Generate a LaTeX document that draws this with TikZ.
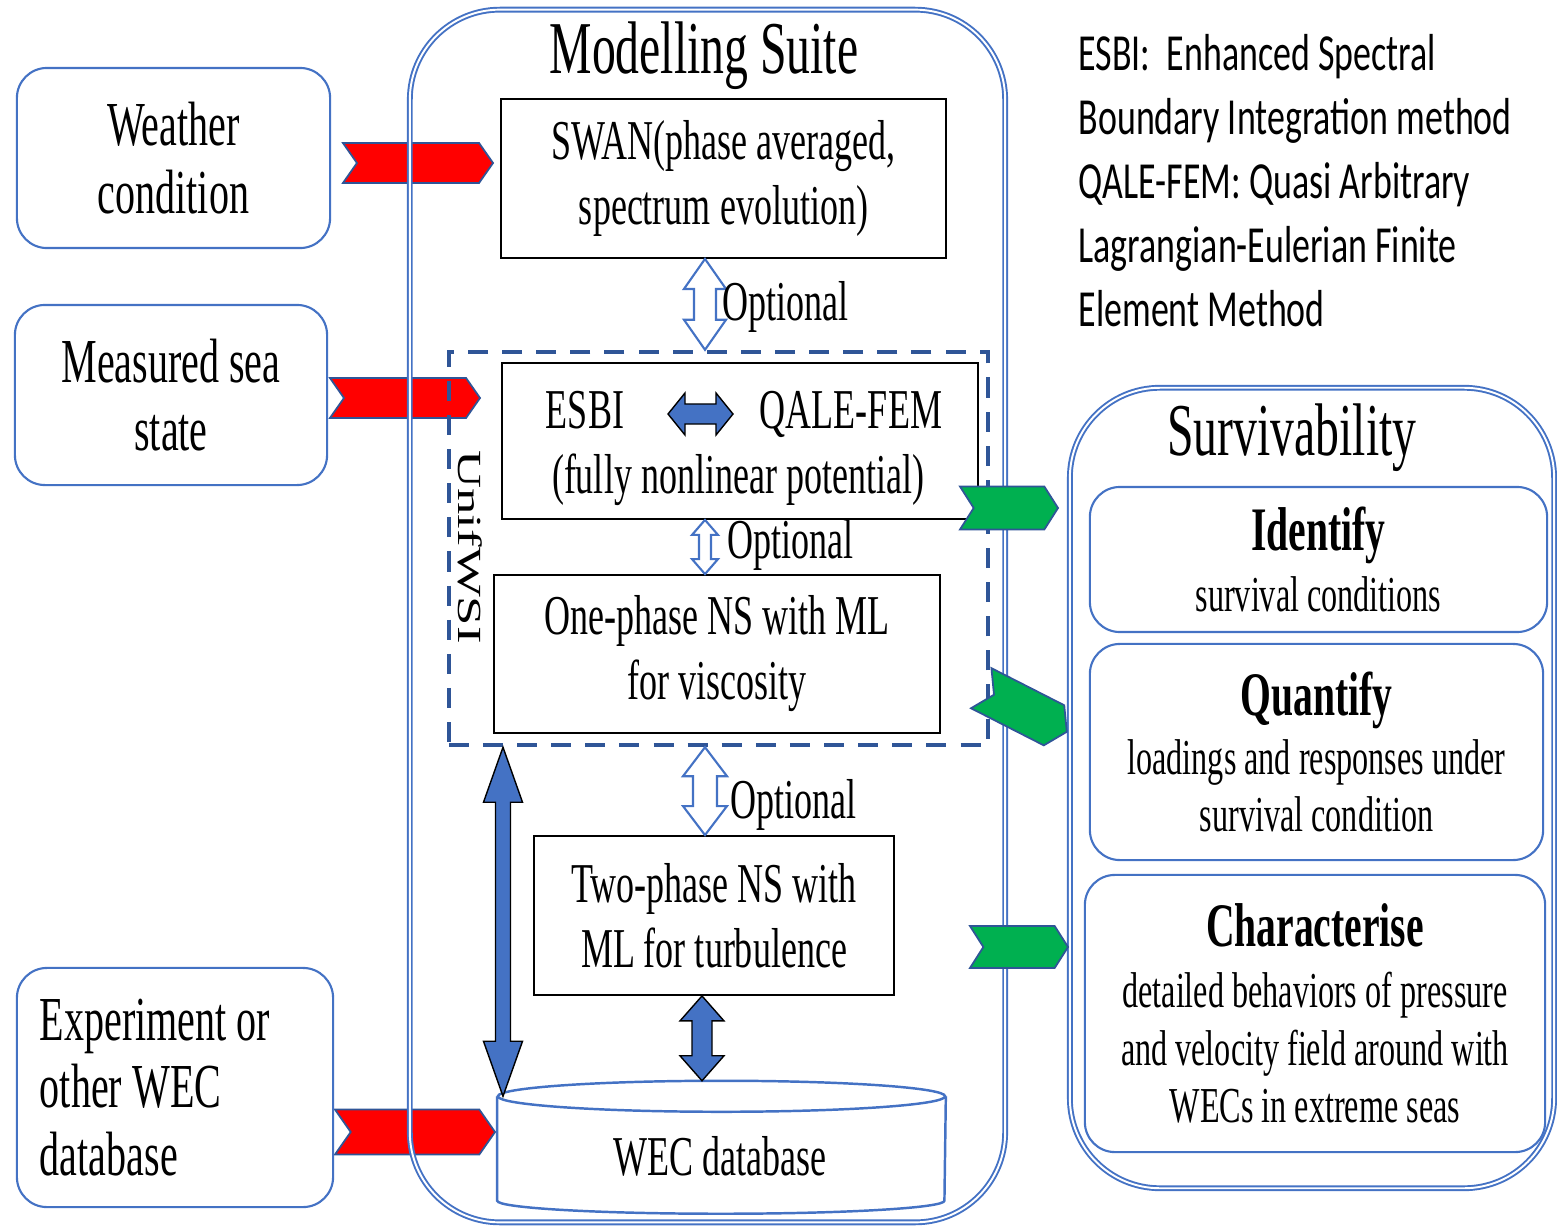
\documentclass[tikz,border=0pt]{standalone}
\usepackage{fontspec}
\setmainfont[FakeStretch=0.64]{Liberation Serif}
\newfontfamily\plainserif{Liberation Serif}
\newfontfamily\notefont[FakeStretch=0.69]{Carlito}
\usepackage{tikz}
\usetikzlibrary{positioning}
\usetikzlibrary{calc}
\usetikzlibrary{shapes.symbols}

\definecolor{boxblue}{HTML}{4472C4}
\definecolor{darkblue}{HTML}{2F5597}
\definecolor{chevgreen}{HTML}{00B050}

\tikzstyle{inbox}=[draw=boxblue, line width=0.6pt, rounded corners=0.3cm, align=center, font=\fontsize{17.8}{19.3}\selectfont]
\tikzstyle{suite}=[draw=boxblue, double, double distance=0.55pt, line width=0.55pt, rounded corners=0.9cm]
\tikzstyle{modbox}=[draw=black, line width=0.5pt, align=center, font=\fontsize{16}{18.5}\selectfont]
\tikzstyle{boxtext}=[font=\fontsize{16}{18.5}\selectfont, anchor=base, inner sep=0pt]
\tikzstyle{unifbox}=[draw=darkblue, line width=1.2pt, dash pattern=on 5.7pt off 4pt]
\tikzstyle{survbox}=[draw=boxblue, line width=0.6pt, rounded corners=0.3cm, align=center, font=\fontsize{14.3}{16.3}\selectfont]
\tikzstyle{headtext}=[font=\fontsize{21.2}{24}\selectfont, anchor=base, inner sep=0pt]
\tikzstyle{opttext}=[font=\fontsize{16}{18}\selectfont, anchor=base west, inner sep=0pt]
\tikzstyle{notetext}=[font=\notefont\fontsize{14.8}{18.2}\selectfont, align=left, inner sep=0pt]
\tikzstyle{redchev}=[signal, signal to=east, signal from=west, signal pointer angle=110, fill=red, draw=darkblue, line width=0.5pt, inner sep=0pt]
\tikzstyle{greenchev}=[signal, signal to=east, signal from=west, signal pointer angle=115, fill=chevgreen, draw=darkblue, line width=0.5pt, inner sep=0pt]
\tikzstyle{hollowarrow}=[draw=boxblue, fill=white, line width=0.6pt]
\tikzstyle{fillarrow}=[fill=boxblue]
\tikzstyle{dbline}=[draw=boxblue, line width=0.7pt]

% vertical block arrow with two heads: style, top, bottom, half shaft, half head, head length
\newcommand{\vdarrow}[6]{%
  \draw[#1] let \p1=(#2), \p2=(#3) in
    (\x1,\y1) -- (\x1+#5,\y1-#6) -- (\x1+#4,\y1-#6) -- (\x1+#4,\y2+#6)
    -- (\x1+#5,\y2+#6) -- (\x1,\y2) -- (\x1-#5,\y2+#6) -- (\x1-#4,\y2+#6)
    -- (\x1-#4,\y1-#6) -- (\x1-#5,\y1-#6) -- cycle;}
% same thing lying flat: style, left, right, half shaft, half head, head length
\newcommand{\hdarrow}[6]{%
  \draw[#1] let \p1=(#2), \p2=(#3) in
    (\x1,\y1) -- (\x1+#6,\y1+#5) -- (\x1+#6,\y1+#4) -- (\x2-#6,\y1+#4)
    -- (\x2-#6,\y1+#5) -- (\x2,\y1) -- (\x2-#6,\y1-#5) -- (\x2-#6,\y1-#4)
    -- (\x1+#6,\y1-#4) -- (\x1+#6,\y1-#5) -- cycle;}

\begin{document}
\begin{tikzpicture}[x=0.01cm, y=-0.01cm]
  \useasboundingbox (0,0) rectangle (1557,1227);

  % inputs feeding the suite
  \node[redchev, minimum width=1.5cm, minimum height=0.4cm] (rc1) at (418,163) {};
  \node[redchev, minimum width=1.5cm, minimum height=0.4cm] (rc2) at (405,398) {};
  \node[redchev, minimum width=1.6cm, minimum height=0.45cm] (rc3) at (415,1132) {};

  % the two big containers
  \node[suite, minimum width=5.95cm, minimum height=12.12cm] (suite) at (707.5,616) {};
  \node[suite, minimum width=4.84cm, minimum height=8cm] (surv) at (1312,788) {};
  \node[headtext] (suitetitle) at (704,73) {Modelling Suite};
  \node[headtext] (survtitle) at (1292,455) {Survivability};

  \node[inbox, minimum width=3.13cm, minimum height=1.8cm] (weather) at (173.5,158) {Weather\\condition};
  \node[inbox, minimum width=3.12cm, minimum height=1.8cm] (seastate) at (171,395) {Measured sea\\state};
  \node[inbox, minimum width=3.16cm, minimum height=2.39cm, align=flush left, text width=2.7cm, inner xsep=0pt] (experiment) at (175,1087.5) {Experiment or\\other WEC\\database};

  % solvers
  \node[modbox, minimum width=4.45cm, minimum height=1.59cm] (swan) at (723.5,178.5) {SWAN(phase averaged,\\spectrum evolution)};
  \node[unifbox, minimum width=5.39cm, minimum height=3.93cm] (unif) at (718.5,548.5) {};
  \node[font=\plainserif\fontsize{15}{15}\selectfont, inner sep=0pt, xscale=0.64, rotate=-90] (uniflabel) at (470,547) {UnifWSI};
  \node[modbox, minimum width=4.76cm, minimum height=1.56cm] (esbibox) at (740,441) {};
  \node[boxtext] (esbi) at (585,428) {ESBI};
  \node[boxtext] (qale) at (851,428) {QALE-FEM};
  \node[boxtext] (fnp) at (738,493) {(fully nonlinear potential)};
  \node[modbox, minimum width=4.46cm, minimum height=1.58cm] (onephase) at (717,654) {One-phase NS with ML\\for viscosity};
  \node[modbox, minimum width=3.6cm, minimum height=1.59cm] (twophase) at (714,915.5) {Two-phase NS with\\ML for turbulence};

  % database drum
  \node[minimum width=4.47cm, minimum height=1.03cm, inner sep=0pt] (wecdb) at (721.5,1148.5) {};
  \draw[dbline] (wecdb.north) ellipse [x radius=2.235cm, y radius=0.155cm];
  \draw[dbline] (wecdb.north west) -- (wecdb.south west) arc[start angle=180, end angle=360, x radius=2.235cm, y radius=0.13cm] -- (wecdb.north east);
  \node[boxtext] (wectext) at (720,1175) {WEC database};

  % links between the solvers
  \coordinate (optx) at (705,0);
  \coordinate (bigx) at (503,0);
  \coordinate (linkx) at (702,0);
  \coordinate (dbtop) at ($(wecdb.north)+(0,-15.5)$);
  \coordinate (ql) at (668,414);
  \coordinate (qr) at (733,414);
  \vdarrow{hollowarrow}{swan.south -| optx}{unif.north -| optx}{0.11cm}{0.21cm}{0.3cm}
  \vdarrow{hollowarrow}{esbibox.south -| optx}{onephase.north -| optx}{0.06cm}{0.13cm}{0.15cm}
  \vdarrow{hollowarrow}{unif.south -| optx}{twophase.north -| optx}{0.12cm}{0.22cm}{0.29cm}
  \vdarrow{fillarrow}{unif.south -| bigx}{wecdb.north west -| bigx}{0.075cm}{0.195cm}{0.55cm}
  \vdarrow{fillarrow}{twophase.south -| linkx}{dbtop -| linkx}{0.1cm}{0.22cm}{0.25cm}
  \hdarrow{fillarrow}{ql}{qr}{0.1cm}{0.21cm}{0.17cm}
  \node[opttext] (opt1) at (722,320) {Optional};
  \node[opttext] (opt2) at (727,558) {Optional};
  \node[opttext] (opt3) at (730,818) {Optional};

  % outputs
  \node[greenchev, minimum width=0.98cm, minimum height=0.43cm] (gc1) at (1009,508) {};
  \node[greenchev, minimum width=0.96cm, minimum height=0.45cm, rotate=-27] (gc2) at (1024,710) {};
  \node[greenchev, minimum width=0.98cm, minimum height=0.42cm] (gc3) at (1019,947) {};

  \node[survbox, minimum width=4.57cm, minimum height=1.45cm] (identify) at (1318.5,559.5) {{\fontsize{17.6}{20}\selectfont\bfseries Identify}\\[0.8pt]survival conditions};
  \node[survbox, minimum width=4.53cm, minimum height=2.16cm] (quantify) at (1316.5,752) {{\fontsize{17.6}{20}\selectfont\bfseries Quantify}\\[0.6pt]loadings and responses under\\survival condition};
  \node[survbox, minimum width=4.6cm, minimum height=2.77cm] (characterise) at (1315,1013.5) {{\fontsize{17.6}{20}\selectfont\bfseries Characterise}\\[1pt]detailed behaviors of pressure\\and velocity field around with\\WECs in extreme seas};

  % abbreviations
  \node[notetext, anchor=north west] (abbrev) at (1078,34) {ESBI:\ \ Enhanced Spectral\\Boundary Integration method\\QALE-FEM: Quasi Arbitrary\\Lagrangian-Eulerian Finite\\Element Method};
\end{tikzpicture}
\end{document}
